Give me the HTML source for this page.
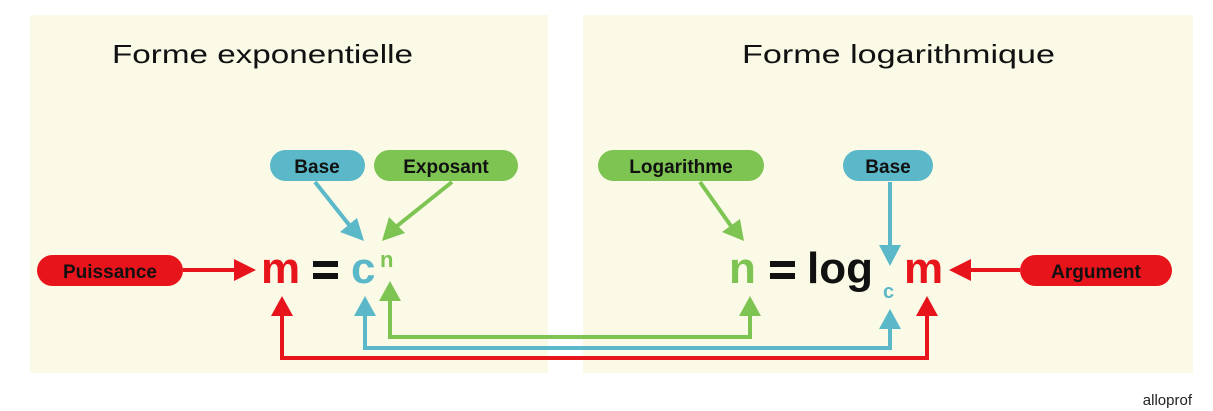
<!DOCTYPE html>
<html><head><meta charset="utf-8"><style>
html,body{margin:0;padding:0;background:#fff;}
svg{display:block;}
text{font-family:"Liberation Sans",sans-serif;}
</style></head><body>
<svg width="1213" height="411" viewBox="0 0 1213 411" xmlns="http://www.w3.org/2000/svg">
<rect x="30" y="15" width="518" height="358" fill="#fafae6"/>
<rect x="583" y="15" width="610" height="358" fill="#fafae6"/>
<text x="112" y="63" font-size="26" textLength="301" lengthAdjust="spacingAndGlyphs" fill="#111">Forme exponentielle</text>
<text x="742" y="63" font-size="26" textLength="313" lengthAdjust="spacingAndGlyphs" fill="#111">Forme logarithmique</text>

<rect x="37" y="255" width="146" height="31" rx="15.5" fill="#e8141b"/>
<text x="110" y="278" font-size="19" font-weight="bold" text-anchor="middle" fill="#111">Puissance</text>
<rect x="270" y="150" width="95" height="31" rx="15.5" fill="#5ab8c9"/>
<text x="317" y="173" font-size="19" font-weight="bold" text-anchor="middle" fill="#111">Base</text>
<rect x="374" y="150" width="144" height="31" rx="15.5" fill="#7dc452"/>
<text x="446" y="173" font-size="19" font-weight="bold" text-anchor="middle" fill="#111">Exposant</text>
<rect x="598" y="150" width="166" height="31" rx="15.5" fill="#7dc452"/>
<text x="681" y="173" font-size="19" font-weight="bold" text-anchor="middle" fill="#111">Logarithme</text>
<rect x="843" y="150" width="90" height="31" rx="15.5" fill="#5ab8c9"/>
<text x="888" y="173" font-size="19" font-weight="bold" text-anchor="middle" fill="#111">Base</text>
<rect x="1020" y="255" width="152" height="31" rx="15.5" fill="#e8141b"/>
<text x="1096" y="278" font-size="19" font-weight="bold" text-anchor="middle" fill="#111">Argument</text>

<text x="261" y="283" font-size="44" font-weight="bold" fill="#e8141b">m</text>
<rect x="313" y="261" width="25" height="6" fill="#111"/><rect x="313" y="273" width="25" height="6" fill="#111"/>
<text x="351" y="283" font-size="44" font-weight="bold" fill="#5ab8c9">c</text>
<text x="380" y="267" font-size="22" font-weight="bold" fill="#7dc452">n</text>

<text x="729" y="283" font-size="44" font-weight="bold" fill="#7dc452">n</text>
<rect x="770" y="261" width="25" height="6" fill="#111"/><rect x="770" y="273" width="25" height="6" fill="#111"/>
<text x="807" y="283" font-size="44" font-weight="bold" fill="#111">log</text>
<text x="883" y="298" font-size="20" font-weight="bold" fill="#5ab8c9">c</text>
<text x="904" y="283" font-size="44" font-weight="bold" fill="#e8141b">m</text>

<g stroke-width="4" fill="none">
<line x1="183" y1="270" x2="238" y2="270" stroke="#e8141b"/>
<line x1="1020" y1="270" x2="968" y2="270" stroke="#e8141b"/>
<line x1="315" y1="182" x2="350" y2="226" stroke="#5ab8c9"/>
<line x1="452" y1="182" x2="397" y2="226" stroke="#7dc452"/>
<line x1="700" y1="182" x2="731" y2="226" stroke="#7dc452"/>
<line x1="890" y1="182" x2="890" y2="248" stroke="#5ab8c9"/>
<polyline points="390,297 390,337 750,337 750,312" stroke="#7dc452"/>
<polyline points="365,312 365,348 890,348 890,325" stroke="#5ab8c9"/>
<polyline points="282,312 282,358 927,358 927,312" stroke="#e8141b"/>
</g>
<g>
<polygon points="256,270 234,259 234,281" fill="#e8141b"/>
<polygon points="949,270 971,259 971,281" fill="#e8141b"/>
<polygon points="364,241 340,232 357,218" fill="#5ab8c9"/>
<polygon points="382,241 389,217 405,233" fill="#7dc452"/>
<polygon points="744,241 722,232 740,219" fill="#7dc452"/>
<polygon points="890,266 879,245 901,245" fill="#5ab8c9"/>
<polygon points="390,281 379,301 401,301" fill="#7dc452"/>
<polygon points="365,296 354,316 376,316" fill="#5ab8c9"/>
<polygon points="282,296 271,316 293,316" fill="#e8141b"/>
<polygon points="750,296 739,316 761,316" fill="#7dc452"/>
<polygon points="890,309 879,329 901,329" fill="#5ab8c9"/>
<polygon points="927,296 916,316 938,316" fill="#e8141b"/>
</g>
<text x="1192" y="405" font-size="15" text-anchor="end" fill="#222">alloprof</text>
</svg>
</body></html>
